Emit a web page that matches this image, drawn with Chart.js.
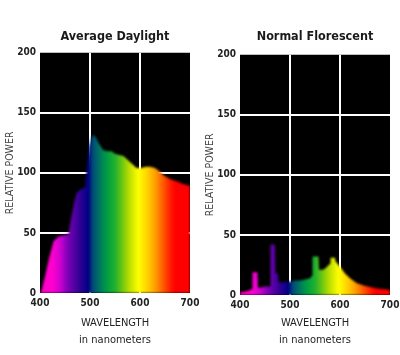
<!DOCTYPE html>
<html>
<head>
<meta charset="utf-8">
<script src="https://cdn.jsdelivr.net/npm/chart.js@4/dist/chart.umd.min.js"></script>
<style>
  html, body { margin: 0; padding: 0; background: #ffffff; }
  #wrap { position: relative; width: 400px; height: 355px; overflow: hidden; }
  .cell { position: absolute; top: 0; width: 200px; height: 355px; }
  #c1 { left: 0; }
  #c2 { left: 200px; }
</style>
</head>
<body>
<div id="wrap">
  <div class="cell" id="c1"><canvas id="daylight" width="200" height="355"></canvas></div>
  <div class="cell" id="c2"><canvas id="florescent" width="200" height="355"></canvas></div>
</div>
<script>
// ---- data ----
const chartTitles = ['Average Daylight', 'Normal Florescent'];
const xTitle = ['WAVELENGTH', 'in nanometers'];
const yTitle = 'RELATIVE POWER';
const xTicks = [400, 500, 600, 700];
const yTicks = [0, 50, 100, 150, 200];

const daylightNm = [400, 403, 410, 417, 427, 437, 447, 457, 463, 468, 473, 480, 490, 494, 498, 504, 510, 517, 526, 535, 543, 550, 557, 567, 580, 593, 603, 612, 620, 630, 637, 647, 660, 673, 685, 693, 700];
const daylightPower = [0, 2, 14, 27, 43, 47, 48, 49, 64, 74, 83, 86, 88, 105, 122, 131, 131, 125, 119, 118, 118, 116, 115, 114, 109, 104, 104, 105, 105, 104, 102, 98, 95, 93, 91, 90, 89];

const florescentNm = [400, 410, 420, 424, 425, 435, 436, 440, 450, 460, 461, 470, 471, 476, 477, 482, 490, 500, 510, 520, 530, 540, 544, 545, 557, 558, 566, 570, 575, 580, 581, 590, 591, 600, 610, 620, 633, 647, 667, 680, 693, 700];
const florescentPower = [2, 3, 4, 5, 19, 19, 6, 6, 7, 7, 42, 42, 18, 18, 11, 10, 11, 11, 12, 12, 13, 14, 16, 32, 32, 21, 21, 22, 24, 26, 31, 31, 28, 23.5, 18, 14, 10, 8, 6, 5, 4.5, 4];

// spectrum colour stops (wavelength -> colour)
const spectrumNm = [400, 425, 440, 455, 470, 485, 497, 505, 520, 535, 550, 565, 580, 597, 615, 630, 645, 660, 670, 700];
const spectrumColor = ['#ff00c0', '#ff00d0', '#d000d0', '#8000b8', '#5000a0', '#200090', '#000080', '#004878', '#007860', '#00a040', '#20b030', '#70c810', '#c0e000', '#ffff00', '#ffd000', '#ffa000', '#ff6000', '#ff2000', '#ff0000', '#ff0000'];

const FONT = "'Liberation Sans Narrow', 'DejaVu Sans Condensed', 'Arial Narrow', sans-serif";

function spectrumFill(context) {
  const chart = context.chart;
  const area = chart.chartArea;
  const xs = chart.scales.x;
  if (!area || !xs) return '#000000';
  const x0 = xs.getPixelForValue(xTicks[0]);
  const x1 = xs.getPixelForValue(xTicks[xTicks.length - 1]);
  const g = chart.ctx.createLinearGradient(x0, 0, x1, 0);
  for (let i = 0; i < spectrumNm.length; i++) {
    const p = xs.getPixelForValue(spectrumNm[i]);
    g.addColorStop(Math.min(1, Math.max(0, (p - x0) / (x1 - x0))), spectrumColor[i]);
  }
  return g;
}

const blackPlot = {
  id: 'blackPlot',
  beforeDraw(chart) {
    const a = chart.chartArea;
    const ctx = chart.ctx;
    ctx.save();
    ctx.fillStyle = '#000000';
    ctx.fillRect(a.left, a.top, a.right - a.left, a.bottom - a.top);
    ctx.restore();
  },
  beforeDatasetsDraw(chart) {
    chart.ctx.save();
    chart.ctx.filter = 'blur(1.2px)';
  },
  afterDatasetsDraw(chart) {
    chart.ctx.restore();
  }
};

function makeChart(id, title, nm, power, titleTop, titleBottom, xHeight) {
  const pts = nm.map((n, i) => ({ x: n, y: power[i] }));
  return new Chart(document.getElementById(id), {
    type: 'line',
    data: {
      datasets: [{
        data: pts,
        fill: 'origin',
        backgroundColor: spectrumFill,
        borderWidth: 0,
        pointRadius: 0,
        tension: 0
      }]
    },
    options: {
      responsive: false,
      animation: false,
      devicePixelRatio: 1,
      layout: { padding: { left: 0, right: 10, top: 0, bottom: 0 } },
      plugins: {
        legend: { display: false },
        tooltip: { enabled: false },
        title: {
          display: true,
          text: title,
          fullSize: false,
          color: '#1a1a1a',
          font: { family: FONT, size: 12.5, weight: 'bold', lineHeight: 1.3 },
          padding: { top: titleTop, bottom: titleBottom }
        }
      },
      scales: {
        x: {
          type: 'linear',
          min: xTicks[0],
          max: xTicks[xTicks.length - 1],
          z: 1,
          afterBuildTicks(scale) { scale.ticks = xTicks.map(v => ({ value: v })); },
          afterFit(scale) { scale.height = xHeight; scale.paddingLeft = 0; scale.paddingRight = 0; },
          border: { display: false },
          grid: {
            drawTicks: false,
            lineWidth: 2,
            color: (c) => (c.tick && (c.tick.value === xTicks[0] || c.tick.value === xTicks[xTicks.length - 1])) ? 'rgba(0,0,0,0)' : '#ffffff'
          },
          ticks: {
            padding: 4,
            color: '#222222',
            maxRotation: 0,
            font: { family: FONT, size: 10, weight: 'bold' }
          },
          title: {
            display: true,
            text: xTitle,
            color: '#222222',
            font: { family: FONT, size: 11, weight: 'normal', lineHeight: 1.55 },
            padding: { top: 0, bottom: 6.5 }
          }
        },
        y: {
          type: 'linear',
          min: yTicks[0],
          max: yTicks[yTicks.length - 1],
          z: 1,
          afterBuildTicks(scale) { scale.ticks = yTicks.map(v => ({ value: v })); },
          afterFit(scale) { scale.width = 40; scale.paddingTop = 0; scale.paddingBottom = 0; },
          border: { display: false },
          grid: {
            drawTicks: false,
            lineWidth: 2,
            color: (c) => (c.tick && (c.tick.value === yTicks[0] || c.tick.value === yTicks[yTicks.length - 1])) ? 'rgba(0,0,0,0)' : '#ffffff'
          },
          ticks: {
            padding: 4,
            color: '#222222',
            font: { family: FONT, size: 10, weight: 'bold' }
          },
          title: {
            display: true,
            text: yTitle,
            color: '#444444',
            font: { family: FONT, size: 10.5, weight: 'normal', lineHeight: 1.2 },
            padding: { top: 3.5, bottom: 0 }
          }
        }
      }
    },
    plugins: [blackPlot]
  });
}

makeChart('daylight', chartTitles[0], daylightNm, daylightPower, 29, 7.5, 62);
makeChart('florescent', chartTitles[1], florescentNm, florescentPower, 29, 9.5, 60);
</script>
</body>
</html>
